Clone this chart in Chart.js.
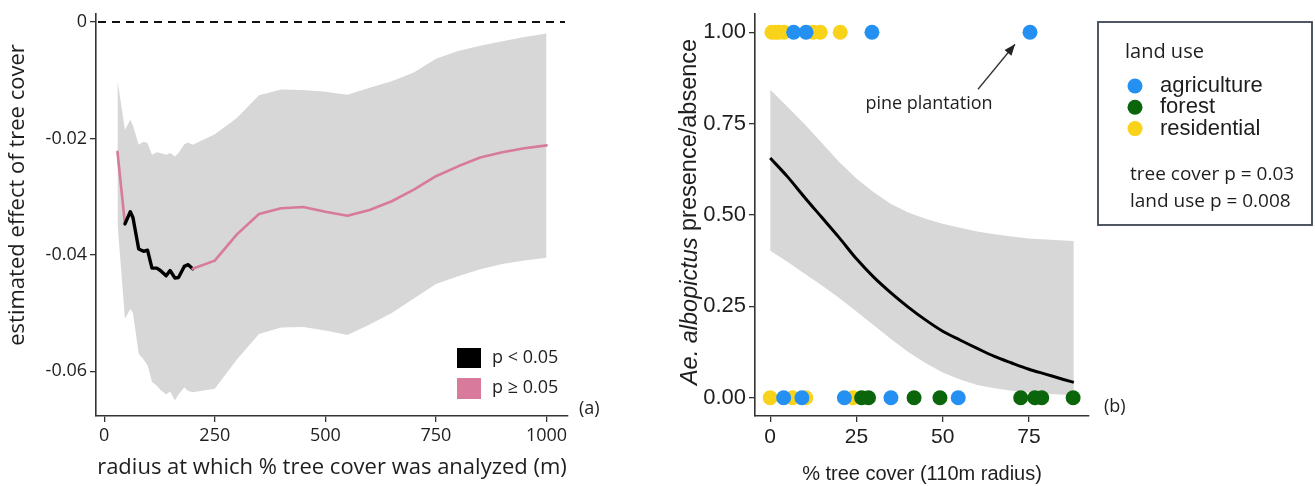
<!DOCTYPE html>
<html>
<head>
<meta charset="utf-8">
<script src="https://cdn.jsdelivr.net/npm/chart.js@4.4.1/dist/chart.umd.min.js"></script>
<style>
  html, body { margin: 0; padding: 0; background: #fff; }
  #wrap { position: relative; width: 1315px; height: 486px; overflow: hidden; }
  #chartA { position: absolute; left: 0; top: 2px; }
  #chartB { position: absolute; left: 640px; top: 2px; }
</style>
</head>
<body>
<div id="wrap">
  <canvas id="chartA" width="640" height="484"></canvas>
  <canvas id="chartB" width="675" height="484"></canvas>
</div>
<script>
// ---- panel (a): effect of tree cover by buffer radius
const radiusA = [30, 47, 59, 65, 78, 89, 98, 108, 119, 127, 140, 149, 160, 168, 181, 190, 200,
  250, 300, 350, 400, 450, 500, 550, 600, 650, 700, 750, 800, 850, 900, 950, 1000];
const estimateA = [-0.0223, -0.0347, -0.0326, -0.0336, -0.0390, -0.0394, -0.0392, -0.0423, -0.0423,
  -0.0427, -0.0436, -0.0427, -0.0440, -0.0439, -0.0420, -0.0417, -0.0424,
  -0.0410, -0.0365, -0.0330, -0.0320, -0.0318, -0.0326, -0.0333, -0.0323, -0.0308,
  -0.0288, -0.0265, -0.0248, -0.0233, -0.0224, -0.0217, -0.0212];
const upperA = [-0.0100, -0.0185, -0.0168, -0.0178, -0.0211, -0.0206, -0.0208, -0.0228, -0.0224,
  -0.0225, -0.0228, -0.0225, -0.0231, -0.0225, -0.0210, -0.0207, -0.0211,
  -0.0193, -0.0165, -0.0126, -0.0116, -0.0117, -0.0120, -0.0125, -0.0113, -0.0102,
  -0.0087, -0.0063, -0.0050, -0.0041, -0.0033, -0.0026, -0.0020];
const lowerA = [-0.0346, -0.0510, -0.0493, -0.0500, -0.0570, -0.0580, -0.0590, -0.0618, -0.0625,
  -0.0632, -0.0640, -0.0635, -0.0650, -0.0640, -0.0628, -0.0634, -0.0636,
  -0.0630, -0.0580, -0.0536, -0.0525, -0.0524, -0.0530, -0.0538, -0.0520, -0.0500,
  -0.0475, -0.0450, -0.0437, -0.0425, -0.0416, -0.0410, -0.0405];
// 1 = p < 0.05
const significantA = [0, 1, 1, 1, 1, 1, 1, 1, 1, 1, 1, 1, 1, 1, 1, 1, 1,
  0, 0, 0, 0, 0, 0, 0, 0, 0, 0, 0, 0, 0, 0, 0, 0];
const xTicksA = [0, 250, 500, 750, 1000];
const yTicksA = [0, -0.02, -0.04, -0.06];

// ---- panel (b): presence/absence vs % tree cover
const coverB = [0, 5, 10, 15, 20, 25, 30, 35, 40, 45, 50, 55, 60, 65, 70, 75, 80, 85, 88];
const fitB = [0.656, 0.605, 0.548, 0.493, 0.438, 0.380, 0.330, 0.287, 0.248, 0.213,
  0.182, 0.158, 0.135, 0.113, 0.095, 0.078, 0.064, 0.050, 0.042];
const upperB = [0.843, 0.796, 0.748, 0.697, 0.645, 0.600, 0.562, 0.530, 0.507, 0.490,
  0.476, 0.465, 0.455, 0.447, 0.441, 0.436, 0.433, 0.430, 0.429];
const lowerB = [0.402, 0.372, 0.339, 0.307, 0.273, 0.236, 0.198, 0.161, 0.125, 0.095,
  0.069, 0.050, 0.035, 0.026, 0.019, 0.014, 0.011, 0.008, 0.007];
const agriPresent = [6.8, 10.4, 29.5, 75.3];
const agriAbsent = [3.9, 9.2, 21.5, 35.0, 54.5];
const forestAbsent = [26.5, 28.5, 41.7, 49.2, 72.6, 76.7, 78.7, 87.8];
const residPresent = [0.5, 1.5, 2.5, 4.0, 12.5, 14.5, 20.3];
const residAbsent = [0.0, 6.5, 10.3, 24.0];
const xTicksB = [0, 25, 50, 75];
const yTicksB = [0, 0.25, 0.5, 0.75, 1];

const PINK = '#d77a9c';
const BAND = '#d7d7d7';
const INK = '#1e1e1e';
const AXIS = '#333';
const BLUE = '#2490f2';
const GREEN = '#0b650b';
const GOLD = '#f9d31a';
const OPEN = '"Open Sans", sans-serif';
const ARIAL = '"Liberation Sans", Arial, sans-serif';

const pts = (xs, ys) => xs.map((x, i) => ({ x, y: ys[i] }));
const row = (xs, y) => xs.map(x => ({ x, y }));
const fixTicks = list => scale => { scale.ticks = list.map(v => ({ value: v })); };

// fixed axis band, no extra label padding so the plot box stays put
function fitTo(prop, size) {
  return s => {
    s[prop] = size;
    s.paddingTop = s.paddingBottom = s.paddingLeft = s.paddingRight = 0;
  };
}

function axis(extra) {
  return Object.assign({
    type: 'linear',
    grid: { drawOnChartArea: false, drawTicks: true, tickLength: 6, color: AXIS, lineWidth: 1.3 },
    border: { display: true, color: AXIS, width: 1.6 }
  }, extra);
}

// dashed zero line, legend, labels for (a)
const panelA = {
  id: 'panelA',
  beforeDatasetsDraw(chart) {
    const { ctx, chartArea } = chart;
    const y = chart.scales.y.getPixelForValue(0);
    ctx.save();
    ctx.strokeStyle = '#111';
    ctx.lineWidth = 2;
    ctx.setLineDash([8, 6]);
    ctx.beginPath();
    ctx.moveTo(chartArea.left + 2, y);
    ctx.lineTo(chartArea.right - 3, y);
    ctx.stroke();
    ctx.restore();
  },
  afterDraw(chart) {
    const { ctx, chartArea } = chart;
    ctx.save();
    const lx = chartArea.right - 111;
    ctx.fillStyle = '#000';
    ctx.fillRect(lx, 346, 24, 20);
    ctx.fillStyle = PINK;
    ctx.fillRect(lx, 376, 24, 21);
    ctx.fillStyle = INK;
    ctx.font = '18px ' + OPEN;
    ctx.textBaseline = 'middle';
    ctx.textAlign = 'left';
    ctx.fillText('p < 0.05', lx + 35, 356);
    ctx.fillText('p \u2265 0.05', lx + 35, 386);
    ctx.fillText('(a)', chartArea.right + 11, 407);
    ctx.translate(18, 193);
    ctx.rotate(-Math.PI / 2);
    ctx.textAlign = 'center';
    ctx.font = '22px ' + OPEN;
    ctx.fillText('estimated effect of tree cover', 0, 0);
    ctx.restore();
  }
};

new Chart(document.getElementById('chartA'), {
  type: 'line',
  data: {
    datasets: [
      { data: pts(radiusA, lowerA), borderWidth: 0, pointRadius: 0, fill: false, order: 3 },
      { data: pts(radiusA, upperA), borderWidth: 0, pointRadius: 0, fill: '-1', backgroundColor: BAND, order: 2 },
      {
        data: pts(radiusA, estimateA), pointRadius: 0, fill: false, order: 1,
        borderColor: PINK, borderWidth: 2.6, borderJoinStyle: 'round', borderCapStyle: 'round',
        segment: {
          borderColor: c => significantA[c.p0DataIndex] && significantA[c.p1DataIndex] ? '#000' : PINK,
          borderWidth: c => significantA[c.p0DataIndex] && significantA[c.p1DataIndex] ? 3.4 : 2.6
        }
      }
    ]
  },
  options: {
    responsive: false,
    animation: false,
    layout: { padding: { left: 0, top: 12, right: 72, bottom: 0 } },
    plugins: { legend: { display: false }, tooltip: { enabled: false } },
    scales: {
      x: axis({
        min: -18.5, max: 1048.5,
        afterBuildTicks: fixTicks(xTicksA),
        afterFit: fitTo('height', 70),
        ticks: { color: INK, padding: 3, font: { family: OPEN, size: 18 }, callback: v => String(v) },
        title: {
          display: true, text: 'radius at which % tree cover was analyzed (m)', color: INK,
          font: { family: OPEN, size: 22 }, padding: { top: 0, bottom: 5 }
        }
      }),
      y: axis({
        min: -0.0677, max: 0.00137,
        afterBuildTicks: fixTicks(yTicksA),
        afterFit: fitTo('width', 96),
        ticks: {
          color: INK, padding: 3, font: { family: OPEN, size: 18 },
          callback: v => v === 0 ? '0' : v.toFixed(2)
        }
      })
    }
  },
  plugins: [panelA]
});

// legend box, annotation and y title for (b)
const panelB = {
  id: 'panelB',
  afterDraw(chart) {
    const { ctx, chartArea } = chart;
    ctx.save();
    // y title with italic species name
    ctx.fillStyle = INK;
    ctx.textBaseline = 'middle';
    ctx.translate(50, 210);
    ctx.rotate(-Math.PI / 2);
    const italic = 'italic 23.5px ' + ARIAL;
    const plain = '23.5px ' + ARIAL;
    ctx.font = italic;
    const w1 = ctx.measureText('Ae. albopictus ').width;
    ctx.font = plain;
    const w2 = ctx.measureText('presence/absence').width;
    ctx.textAlign = 'left';
    ctx.font = italic;
    ctx.fillText('Ae. albopictus ', -(w1 + w2) / 2, 0);
    ctx.font = plain;
    ctx.fillText('presence/absence', -(w1 + w2) / 2 + w1, 0);
    ctx.restore();

    // arrow to the pine plantation site
    const px = chart.scales.x.getPixelForValue(agriPresent[3]);
    const py = chart.scales.y.getPixelForValue(1);
    const tipX = px - 15, tipY = py + 12;
    const tailX = tipX - 37, tailY = tipY + 45;
    ctx.save();
    ctx.strokeStyle = '#333';
    ctx.fillStyle = '#222';
    ctx.lineWidth = 1.3;
    ctx.beginPath();
    ctx.moveTo(tailX, tailY);
    ctx.lineTo(tipX, tipY);
    ctx.stroke();
    const ang = Math.atan2(tipY - tailY, tipX - tailX);
    ctx.beginPath();
    ctx.moveTo(tipX, tipY);
    ctx.lineTo(tipX - 11 * Math.cos(ang) + 4.5 * Math.sin(ang), tipY - 11 * Math.sin(ang) - 4.5 * Math.cos(ang));
    ctx.lineTo(tipX - 11 * Math.cos(ang) - 4.5 * Math.sin(ang), tipY - 11 * Math.sin(ang) + 4.5 * Math.cos(ang));
    ctx.closePath();
    ctx.fill();
    ctx.fillStyle = INK;
    ctx.font = '18px ' + OPEN;
    ctx.textAlign = 'center';
    ctx.textBaseline = 'middle';
    ctx.fillText('pine plantation', tipX - 86, tipY + 60);

    // panel letter
    ctx.textAlign = 'left';
    ctx.fillText('(b)', chartArea.right + 15, 405);

    // legend box
    const bx = chartArea.right + 9;
    ctx.strokeStyle = '#3c4652';
    ctx.lineWidth = 1.8;
    ctx.strokeRect(bx, 20, 214, 203);
    ctx.font = '20px ' + OPEN;
    ctx.fillText('land use', bx + 27, 50);
    const items = [['agriculture', BLUE], ['forest', GREEN], ['residential', GOLD]];
    items.forEach(([label, col], i) => {
      const y = 84 + i * 21.3;
      ctx.fillStyle = col;
      ctx.beginPath();
      ctx.arc(bx + 37, y, 7.5, 0, Math.PI * 2);
      ctx.fill();
      ctx.fillStyle = INK;
      ctx.font = '22px ' + ARIAL;
      ctx.fillText(label, bx + 62, y);
    });
    ctx.font = '19px ' + OPEN;
    ctx.fillText('tree cover p = 0.03', bx + 32, 173);
    ctx.fillText('land use p = 0.008', bx + 32, 200);
    ctx.restore();
  }
};

const dots = (data, color, order) => ({
  data, showLine: false, pointRadius: 7.5, pointHoverRadius: 7.5,
  pointBackgroundColor: color, pointBorderWidth: 0, borderColor: color, order
});

new Chart(document.getElementById('chartB'), {
  type: 'line',
  data: {
    datasets: [
      { data: pts(coverB, lowerB), borderWidth: 0, pointRadius: 0, fill: false, order: 7 },
      { data: pts(coverB, upperB), borderWidth: 0, pointRadius: 0, fill: '-1', backgroundColor: BAND, order: 6 },
      { data: pts(coverB, fitB), borderColor: '#000', borderWidth: 3, pointRadius: 0, fill: false,
        cubicInterpolationMode: 'monotone', order: 5 },
      dots(row(residPresent, 1).concat(row(residAbsent, 0)), GOLD, 3),
      dots(row(agriPresent, 1).concat(row(agriAbsent, 0)), BLUE, 2),
      dots(row(forestAbsent, 0), GREEN, 1)
    ]
  },
  options: {
    responsive: false,
    animation: false,
    layout: { padding: { left: 0, top: 12, right: 226, bottom: 0 } },
    plugins: { legend: { display: false }, tooltip: { enabled: false } },
    scales: {
      x: axis({
        min: -4.4, max: 92.4,
        afterBuildTicks: fixTicks(xTicksB),
        afterFit: fitTo('height', 70),
        ticks: { color: INK, padding: 3, font: { family: ARIAL, size: 21 }, callback: v => String(v) },
        title: {
          display: true, text: '% tree cover (110m radius)', color: INK,
          font: { family: ARIAL, size: 20 }, padding: { top: 0, bottom: 0 }
        }
      }),
      y: axis({
        min: -0.05, max: 1.05,
        afterBuildTicks: fixTicks(yTicksB),
        afterFit: fitTo('width', 115),
        ticks: {
          color: INK, padding: 3, font: { family: ARIAL, size: 22 },
          callback: v => v.toFixed(2)
        }
      })
    }
  },
  plugins: [panelB]
});
</script>
</body>
</html>
